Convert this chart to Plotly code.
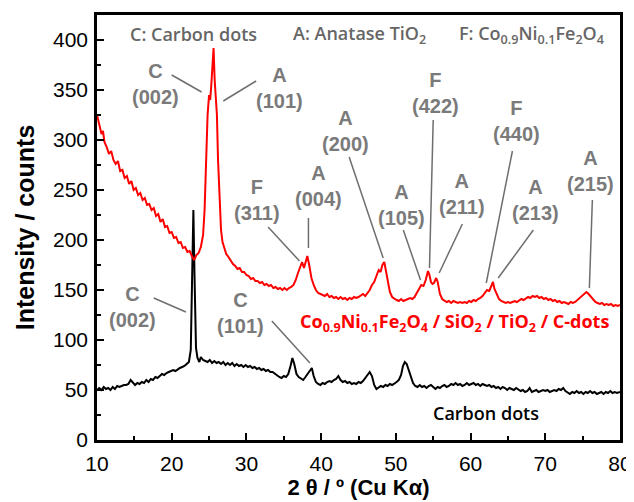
import plotly.graph_objects as go

# ---------------- data ----------------
red_x = [10.0, 10.2, 10.4, 10.6, 10.8, 11.0, 11.3, 11.6, 11.9, 12.2, 12.5, 12.8, 13.1, 13.4, 13.7,
         14.0, 14.3, 14.6, 14.9, 15.2, 15.5, 15.8, 16.1, 16.4, 16.7, 17.0, 17.3, 17.6, 17.9, 18.2,
         18.5, 18.8, 19.1, 19.4, 19.7, 20.0, 20.3, 20.6, 20.9, 21.2, 21.5, 21.8, 22.1, 22.4, 22.7,
         23.0, 23.3, 23.6, 23.9, 24.2, 24.4, 24.6, 24.8, 25.0, 25.15, 25.3, 25.45, 25.6, 25.75, 25.9,
         26.05, 26.2, 26.4, 26.6, 26.8, 27.0, 27.3, 27.6, 27.9, 28.2, 28.5, 28.8, 29.1, 29.4, 29.7,
         30.0, 30.3, 30.6, 30.9, 31.2, 31.5, 31.8, 32.1, 32.4, 32.7, 33.0, 33.3, 33.6, 33.9, 34.2,
         34.5, 34.8, 35.1, 35.4, 35.7, 36.0, 36.3, 36.6, 36.9, 37.2, 37.45, 37.7, 37.95, 38.15, 38.4,
         38.7, 39.0, 39.3, 39.6, 39.9, 40.2, 40.5, 40.8, 41.1, 41.4, 41.7, 42.0, 42.3, 42.6, 42.9,
         43.2, 43.5, 43.8, 44.1, 44.4, 44.7, 45.0, 45.3, 45.6, 45.9, 46.2, 46.5, 46.8, 47.1, 47.4,
         47.7, 47.95, 48.2, 48.45, 48.65, 48.9, 49.2, 49.5, 49.8, 50.1, 50.4, 50.7, 51.0, 51.3, 51.6,
         51.9, 52.2, 52.5, 52.8, 53.1, 53.4, 53.7, 54.0, 54.3, 54.5, 54.7, 54.9, 55.1, 55.4, 55.6,
         55.9, 56.2, 56.5, 56.8, 57.1, 57.4, 57.7, 58.0, 58.3, 58.6, 58.9, 59.2, 59.5, 59.8, 60.1,
         60.4, 60.7, 61.0, 61.3, 61.6, 61.9, 62.2, 62.5, 62.8, 63.0, 63.2, 63.5, 63.8, 64.1, 64.4,
         64.7, 65.0, 65.3, 65.6, 65.9, 66.2, 66.5, 66.8, 67.1, 67.4, 67.7, 68.0, 68.3, 68.6, 68.9,
         69.2, 69.5, 69.8, 70.1, 70.4, 70.7, 71.0, 71.3, 71.6, 71.9, 72.2, 72.5, 72.8, 73.1, 73.4,
         73.7, 74.0, 74.3, 74.6, 74.9, 75.2, 75.5, 75.8, 76.1, 76.4, 76.7, 77.0, 77.3, 77.6, 77.9,
         78.2, 78.5, 78.8, 79.1, 79.4, 79.7, 80.0]
red_y = [325, 318, 312, 306, 309, 298, 293, 286, 289, 280, 276, 279, 269, 270, 262,
         264, 256, 259, 250, 252, 245, 247, 240, 242, 235, 236, 230, 232, 224, 226,
         218, 221, 213, 214, 207, 208, 202, 203, 197, 198, 192, 193, 188, 189, 184,
         180, 185, 187, 193, 205, 230, 280, 325, 345, 340, 355, 380, 392, 360, 338,
         325, 280, 235, 210, 198, 192, 186, 183, 179, 176, 174, 171, 172, 168, 168,
         165, 164, 161, 162, 159, 159, 157, 158, 155, 156, 154, 155, 152, 153, 151,
         152, 150, 152, 150, 152, 153, 155, 160, 167, 174, 178, 172, 180, 184, 175,
         162, 155, 150, 147, 146, 145, 144, 146, 143, 144, 142, 143, 141, 143, 141,
         142, 140, 142, 141, 143, 142, 143, 145, 146, 144, 147, 150, 155, 158, 164,
         170, 168, 175, 178, 170, 158, 148, 143, 141, 140, 139, 141, 139, 140, 141,
         142, 141, 143, 147, 151, 155, 154, 160, 169, 165, 158, 156, 157, 162, 158,
         146, 141, 139, 138, 139, 137, 139, 138, 137, 138, 137, 138, 137, 139, 138,
         140, 139, 141, 142, 144, 147, 150, 149, 155, 158, 151, 145, 141, 139, 138,
         137, 138, 137, 138, 139, 138, 140, 141, 140, 142, 143, 142, 144, 143, 144,
         142, 143, 141, 142, 140, 141, 139, 140, 138, 139, 137, 138, 137, 136, 138,
         137, 138, 140, 142, 144, 146, 148, 146, 143, 140, 138, 137, 136, 137, 135,
         136, 135, 136, 134, 135, 134, 135]

black_x = [10.0, 10.3, 10.6, 10.9, 11.2, 11.5, 11.8, 12.1, 12.4, 12.7, 13.0, 13.3, 13.6, 13.9, 14.2,
           14.5, 14.8, 15.1, 15.4, 15.7, 16.0, 16.3, 16.6, 16.9, 17.2, 17.5, 17.8, 18.1, 18.4, 18.7,
           19.0, 19.3, 19.6, 19.9, 20.2, 20.5, 20.8, 21.1, 21.4, 21.7, 22.0, 22.3, 22.55, 22.75, 22.9,
           23.05, 23.25, 23.45, 23.7, 23.9, 24.2, 24.5, 24.8, 25.1, 25.4, 25.7, 26.0, 26.3, 26.6, 26.9,
           27.2, 27.5, 27.8, 28.1, 28.4, 28.7, 29.0, 29.3, 29.6, 29.9, 30.2, 30.5, 30.8, 31.1, 31.4,
           31.7, 32.0, 32.3, 32.6, 32.9, 33.2, 33.5, 33.8, 34.1, 34.4, 34.7, 35.0, 35.3, 35.6, 35.9,
           36.15, 36.4, 36.7, 37.0, 37.3, 37.6, 37.9, 38.2, 38.5, 38.75, 39.0, 39.3, 39.6, 39.9, 40.2,
           40.5, 40.8, 41.1, 41.4, 41.7, 42.0, 42.3, 42.6, 42.9, 43.2, 43.5, 43.8, 44.1, 44.4, 44.7,
           45.0, 45.3, 45.6, 45.9, 46.2, 46.5, 46.8, 47.1, 47.4, 47.7, 48.0, 48.3, 48.6, 48.9, 49.2,
           49.5, 49.8, 50.1, 50.4, 50.7, 50.95, 51.2, 51.45, 51.7, 52.0, 52.3, 52.6, 52.9, 53.2, 53.5,
           53.8, 54.1, 54.4, 54.7, 55.0, 55.3, 55.6, 55.9, 56.2, 56.5, 56.8, 57.1, 57.4, 57.7, 58.0,
           58.3, 58.6, 58.9, 59.2, 59.5, 59.8, 60.1, 60.4, 60.7, 61.0, 61.3, 61.6, 61.9, 62.2, 62.5,
           62.8, 63.1, 63.4, 63.7, 64.0, 64.3, 64.6, 64.9, 65.2, 65.5, 65.8, 66.1, 66.4, 66.7, 67.0,
           67.3, 67.6, 67.9, 68.2, 68.5, 68.8, 69.1, 69.4, 69.7, 70.0, 70.3, 70.6, 70.9, 71.2, 71.5,
           71.8, 72.1, 72.4, 72.7, 73.0, 73.3, 73.6, 73.9, 74.2, 74.5, 74.8, 75.1, 75.4, 75.7, 76.0,
           76.3, 76.6, 76.9, 77.2, 77.5, 77.8, 78.1, 78.4, 78.7, 79.0, 79.3, 79.6, 80.0]
black_y = [50, 52, 50, 53, 51, 52, 50, 53, 51, 54, 53, 54, 55, 55, 56,
           60, 57, 55, 57, 56, 58, 57, 60, 58, 61, 60, 63, 62, 64, 66,
           65, 67, 68, 69, 70, 69, 71, 72, 73, 74, 76, 78, 90, 170, 230,
           165, 92, 82, 78, 83, 80, 79, 78, 80, 77, 79, 77, 78, 76, 78,
           75, 77, 75, 77, 74, 76, 74, 75, 73, 75, 73, 74, 72, 73, 71,
           72, 70, 71, 69, 70, 68, 68, 66, 65, 63, 62, 64, 63, 66, 74,
           82, 76, 66, 63, 61, 60, 63, 66, 70, 72, 64, 58, 56, 55, 57,
           56, 58, 59, 58, 60, 61, 64, 60, 58, 59, 57, 58, 56, 57, 56,
           58, 57, 59, 62, 65, 68, 64, 55, 51, 53, 54, 53, 55, 54, 56,
           55, 57, 58, 60, 65, 74, 78, 76, 70, 62, 57, 54, 53, 55, 53,
           54, 52, 54, 55, 53, 51, 53, 52, 54, 55, 53, 54, 56, 55, 57,
           55, 56, 54, 55, 57, 55, 56, 57, 55, 56, 54, 56, 55, 54, 55,
           53, 54, 52, 53, 51, 53, 52, 50, 52, 51, 50, 52, 50, 49, 50,
           48, 49, 52, 48, 49, 50, 48, 49, 50, 49, 50, 48, 49, 50, 49,
           51, 50, 52, 49, 47, 46, 48, 47, 49, 47, 48, 46, 48, 47, 49,
           47, 48, 46, 47, 48, 46, 48, 47, 49, 47, 48, 47, 48]

x_ticks = [10, 20, 30, 40, 50, 60, 70, 80]
y_ticks = [0, 50, 100, 150, 200, 250, 300, 350, 400]

# peak labels: (text, label x, label y, line start x, line start y, line end x, line end y)
peak_labels = [
    ("C<br>(002)", 17.8, 356, 20.0, 365, 24.0, 348),
    ("A<br>(101)", 34.4, 352, 31.3, 359, 26.9, 339),
    ("F<br>(311)", 31.4, 240, 32.9, 213, 37.1, 179),
    ("A<br>(004)", 39.6, 254, 38.3, 222, 38.3, 192),
    ("A<br>(200)", 43.3, 309, 43.75, 283, 48.3, 182),
    ("A<br>(105)", 50.8, 235, 51.0, 210, 53.3, 160),
    ("F<br>(422)", 55.3, 347, 55.0, 320, 54.5, 172),
    ("A<br>(211)", 58.9, 246, 58.9, 216, 55.8, 167),
    ("F<br>(440)", 66.2, 319, 65.6, 289, 62.1, 157),
    ("A<br>(213)", 68.7, 240, 68.4, 210, 63.7, 162),
    ("A<br>(215)", 76.0, 269, 76.3, 240, 75.9, 152),
    ("C<br>(002)", 14.8, 133, 17.6, 142, 21.9, 128),
    ("C<br>(101)", 29.2, 127, 33.4, 119, 38.5, 77),
]

legend_items = [
    ("C: Carbon dots", 22.9),
    ("A: Anatase TiO<sub>2</sub>", 45.1),
    ("F: Co<sub>0.9</sub>Ni<sub>0.1</sub>Fe<sub>2</sub>O<sub>4</sub>", 68.1),
]

red_name = "Co<sub>0.9</sub>Ni<sub>0.1</sub>Fe<sub>2</sub>O<sub>4</sub> / SiO<sub>2</sub> / TiO<sub>2</sub> / C-dots"
black_name = "Carbon dots"

# ---------------- figure ----------------
GRAY = "#7a7a7a"
fig = go.Figure()
fig.add_trace(go.Scatter(x=black_x, y=black_y, mode="lines",
                         line=dict(color="black", width=2), showlegend=False))
fig.add_trace(go.Scatter(x=red_x, y=red_y, mode="lines",
                         line=dict(color="#ff0000", width=2), showlegend=False))

for txt, lx, ly, x0, y0, x1, y1 in peak_labels:
    fig.add_shape(type="line", x0=x0, y0=y0, x1=x1, y1=y1, xref="x", yref="y",
                  line=dict(color="#6e6e6e", width=1.5))
    fig.add_annotation(x=lx, y=ly, text=txt, showarrow=False, xref="x", yref="y",
                       xanchor="center", yanchor="middle",
                       font=dict(family="Liberation Sans", size=20, color=GRAY, weight="bold"))

for txt, lx in legend_items:
    fig.add_annotation(x=lx, y=406, text=txt, showarrow=False, xref="x", yref="y",
                       xanchor="center", yanchor="middle",
                       font=dict(family="Open Sans", size=18, color="#666666", weight=600))

fig.add_annotation(x=57.9, y=118, text=red_name, showarrow=False, xref="x", yref="y",
                   xanchor="center", yanchor="middle",
                   font=dict(family="Open Sans", size=18, color="#ff0000", weight="bold"))
fig.add_annotation(x=62.1, y=27, text=black_name, showarrow=False, xref="x", yref="y",
                   xanchor="center", yanchor="middle",
                   font=dict(family="Open Sans", size=18, color="black", weight=600))

axis_common = dict(showgrid=False, zeroline=False, showline=True, linecolor="black",
                   linewidth=2.5, mirror=True, ticks="inside", tickcolor="black",
                   tickwidth=2, ticklen=7, automargin=False,
                   tickfont=dict(family="Liberation Sans", size=21, color="black"))

fig.update_xaxes(range=[10, 80], tickvals=x_ticks, ticktext=[str(v) for v in x_ticks],
                 ticklabelstandoff=3,
                 minor=dict(dtick=5, ticks="inside", ticklen=4, tickwidth=1.5, tickcolor="black"),
                 title=dict(text="2 θ / º (Cu Kα)", standoff=4,
                            font=dict(family="Liberation Sans", size=22, color="black", weight="bold")),
                 **axis_common)
fig.update_yaxes(range=[0, 425], tickvals=y_ticks, ticktext=[str(v) for v in y_ticks],
                 ticklabelstandoff=2,
                 minor=dict(dtick=25, ticks="inside", ticklen=4, tickwidth=1.5, tickcolor="black"),
                 title=dict(text="Intensity / counts", standoff=12,
                            font=dict(family="Liberation Sans", size=25, color="black", weight="bold")),
                 **axis_common)

# the page adds an 8 px body margin, so the margins are shifted to compensate
fig.update_layout(width=634, height=502, margin=dict(l=89, r=22, t=7, b=70),
                  plot_bgcolor="white", paper_bgcolor="white")

fig.write_html("out.html")
